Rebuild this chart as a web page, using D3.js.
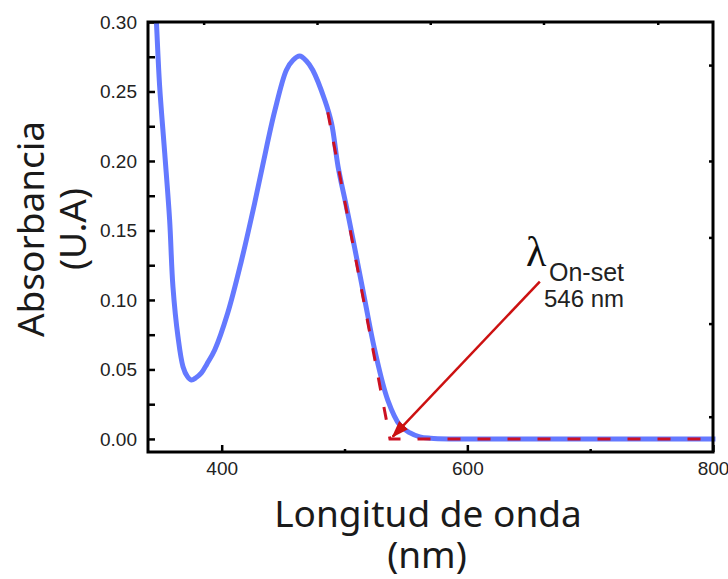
<!DOCTYPE html>
<html>
<head>
<meta charset="utf-8">
<script src="https://cdn.jsdelivr.net/npm/d3@7"></script>
<style>
body { margin: 0; background: #fff; }
</style>
</head>
<body>
<svg id="chart" width="728" height="579"></svg>
<script>
// spectrum (nm, absorbance)
var wavelength = [345, 346.8, 349.5, 353.6, 357.6, 360.3, 364.4, 368.5, 372, 375.3, 379, 383.5, 388, 394.3, 404.9, 416, 426.9, 433.4, 443.2, 452.7, 458, 463.5, 469, 474.1, 483.9, 489.4, 494.8, 501.6, 507, 516.5, 524.6, 535.2, 545, 553, 561.3, 570, 585.7, 650, 720, 802];
var absorbance = [0.333, 0.301, 0.2535, 0.2058, 0.1576, 0.1096, 0.0736, 0.052, 0.045, 0.0424, 0.044, 0.0475, 0.054, 0.064, 0.0906, 0.128, 0.170, 0.197, 0.236, 0.2655, 0.2725, 0.2755, 0.272, 0.2655, 0.2439, 0.2273, 0.1957, 0.1669, 0.1432, 0.1, 0.064, 0.028, 0.010, 0.0045, 0.0015, 0.0005, 0, 0, 0, 0];

// tangent used for the onset (dashed red)
var onsetX = [486.4, 537, 802];
var onsetY = [0.235, 0, 0];

// arrow pointing at the onset, from / to in data units
var arrowFrom = [659, 0.1132];
var arrowTo = [539.3, 0.0017];

var yTicks = [0, 0.05, 0.10, 0.15, 0.20, 0.25, 0.30];
var yMinorTicks = [0.025, 0.075, 0.125, 0.175, 0.225, 0.275];
var xTicks = [400, 600, 800];
var xMinorTicks = [500, 700];
var topTicks = [385.3, 477.6, 569.8, 662, 755];
var rightTicks = [0.269, 0.200, 0.145, 0.083, 0.016];

var yTitle = ['Absorbancia', '(U.A)'];
var xTitle = ['Longitud de onda', '(nm)'];

var svg = d3.select('#chart');
var plotL = 148, plotR = 713, plotT = 22, plotB = 452;

var xs = d3.scaleLinear().domain([340, 800]).range([plotL, plotR]);
var ys = d3.scaleLinear().domain([-0.0094, 0.30]).range([plotB, plotT]);

var defs = svg.append('defs');
defs.append('clipPath').attr('id', 'plotclip')
    .append('rect')
    .attr('x', plotL).attr('y', plotT)
    .attr('width', plotR - plotL + 4).attr('height', plotB - plotT);

var tickFont = 'Liberation Sans, Arial, sans-serif';

// left axis
svg.append('g').attr('transform', 'translate(' + plotL + ',0)')
    .call(d3.axisLeft(ys).tickValues(yTicks).tickSize(-7).tickPadding(11).tickFormat(d3.format('.2f')));
svg.append('g').attr('transform', 'translate(' + plotL + ',0)')
    .call(d3.axisLeft(ys).tickValues(yMinorTicks).tickSize(-7).tickFormat(''));

// bottom axis
svg.append('g').attr('transform', 'translate(0,' + plotB + ')')
    .call(d3.axisBottom(xs).tickValues(xTicks).tickSize(-7).tickPadding(10).tickFormat(d3.format('d')));
svg.append('g').attr('transform', 'translate(0,' + plotB + ')')
    .call(d3.axisBottom(xs).tickValues(xMinorTicks).tickSize(-3).tickFormat(''));

// top and right ticks
svg.append('g').attr('transform', 'translate(0,' + plotT + ')')
    .call(d3.axisTop(xs).tickValues(topTicks).tickSize(-3).tickFormat(''));
svg.append('g').attr('transform', 'translate(' + plotR + ',0)')
    .call(d3.axisRight(ys).tickValues(rightTicks).tickSize(-4).tickFormat(''));

svg.selectAll('.domain').remove();
svg.selectAll('.tick line').attr('stroke', '#000').attr('stroke-width', 2.5);
svg.selectAll('.tick text')
    .attr('font-family', tickFont)
    .attr('font-size', 19)
    .attr('fill', '#222');

// data
var pts = wavelength.map(function (d, i) { return [d, absorbance[i]]; });
var line = d3.line()
    .x(function (d) { return xs(d[0]); })
    .y(function (d) { return ys(d[1]); })
    .curve(d3.curveCatmullRom.alpha(0.5));

svg.append('path')
    .datum(pts)
    .attr('clip-path', 'url(#plotclip)')
    .attr('d', line)
    .attr('fill', 'none')
    .attr('stroke', '#6479ff')
    .attr('stroke-width', 5)
    .attr('stroke-linejoin', 'round');

var onsetPts = onsetX.map(function (d, i) { return [d, onsetY[i]]; });
svg.append('path')
    .datum(onsetPts)
    .attr('d', d3.line().x(function (d) { return xs(d[0]); }).y(function (d) { return ys(d[1]); }))
    .attr('fill', 'none')
    .attr('stroke', '#cc1122')
    .attr('stroke-width', 3)
    .attr('stroke-dasharray', '13,17');

// frame
svg.append('rect')
    .attr('x', plotL).attr('y', plotT)
    .attr('width', plotR - plotL).attr('height', plotB - plotT)
    .attr('fill', 'none')
    .attr('stroke', '#000')
    .attr('stroke-width', 3);

// arrow
defs.append('marker')
    .attr('id', 'head')
    .attr('viewBox', '0 0 10 10')
    .attr('refX', 9).attr('refY', 5)
    .attr('markerWidth', 7).attr('markerHeight', 7)
    .attr('markerUnits', 'strokeWidth')
    .attr('orient', 'auto')
    .append('path')
    .attr('d', 'M0,1.5 L10,5 L0,8.5 Z')
    .attr('fill', '#cc1111');

svg.append('line')
    .attr('x1', xs(arrowFrom[0])).attr('y1', ys(arrowFrom[1]))
    .attr('x2', xs(arrowTo[0])).attr('y2', ys(arrowTo[1]))
    .attr('stroke', '#cc1111')
    .attr('stroke-width', 2.5)
    .attr('marker-end', 'url(#head)');

// annotation
svg.append('text')
    .attr('x', 526).attr('y', 266)
    .attr('font-family', 'Liberation Serif, serif')
    .attr('font-size', 42)
    .attr('fill', '#111')
    .text('\u03bb');
svg.append('text')
    .attr('x', 549).attr('y', 281)
    .attr('font-family', tickFont)
    .attr('font-size', 25)
    .attr('fill', '#222')
    .text('On-set');
svg.append('text')
    .attr('x', 544).attr('y', 307)
    .attr('font-family', tickFont)
    .attr('font-size', 24)
    .attr('fill', '#222')
    .text('546 nm');

// axis titles
var titleFont = 'Noto Sans, Open Sans, sans-serif';
svg.append('text')
    .attr('transform', 'translate(44,229) rotate(-90)')
    .attr('text-anchor', 'middle')
    .attr('font-family', titleFont)
    .attr('font-size', 37)
    .attr('fill', '#1a1a1a')
    .text(yTitle[0]);
svg.append('text')
    .attr('transform', 'translate(86,229) rotate(-90)')
    .attr('text-anchor', 'middle')
    .attr('font-family', titleFont)
    .attr('font-size', 37)
    .attr('fill', '#1a1a1a')
    .text(yTitle[1]);
svg.append('text')
    .attr('x', 428).attr('y', 527)
    .attr('text-anchor', 'middle')
    .attr('font-family', titleFont)
    .attr('font-size', 37)
    .attr('fill', '#1a1a1a')
    .text(xTitle[0]);
svg.append('text')
    .attr('x', 427).attr('y', 568)
    .attr('text-anchor', 'middle')
    .attr('font-family', titleFont)
    .attr('font-size', 37)
    .attr('fill', '#1a1a1a')
    .text(xTitle[1]);
</script>
</body>
</html>
